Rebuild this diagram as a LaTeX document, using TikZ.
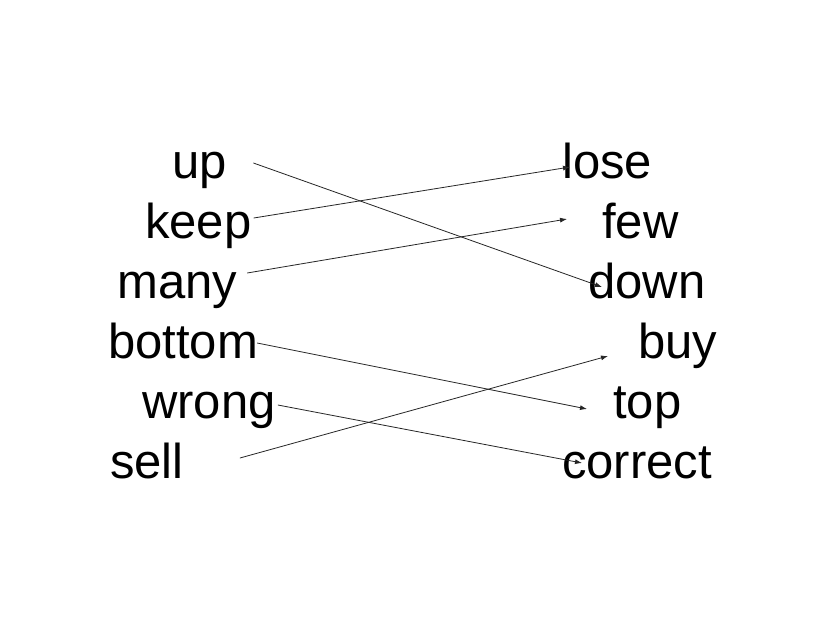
\documentclass[tikz,border=0pt]{standalone}
\usepackage{fontspec}
\setmainfont{Liberation Sans}
\usetikzlibrary{arrows.meta}
\begin{document}
\begin{tikzpicture}[x=1pt,y=1pt,
  word/.style={inner sep=0pt, font=\fontsize{49}{59}\selectfont},
  lw/.style={word, anchor=base west},
  link/.style={line width=0.8pt, draw=black!85, -{Latex[length=7pt,width=5pt]}}]
\fill[white] (0,0) rectangle (821,-616);
\useasboundingbox (0,0) rectangle (821,-616);
% left column
\node[lw] (up)     at (172,-178) {up};
\node[lw] (keep)   at (145,-238) {keep};
\node[lw] (many)   at (117,-298) {many};
\node[lw] (bottom) at (108,-358) {bottom};
\node[lw] (wrong)  at (142,-418) {wrong};
\node[lw] (sell)   at (110,-478) {sell};
% right column
\node[lw] (lose)    at (562,-178) {lose};
\node[lw] (few)     at (602,-238) {few};
\node[lw] (down)    at (588,-298) {down};
\node[lw] (buy)     at (638,-358) {buy};
\node[lw] (top)     at (613,-418) {top};
\node[lw] (correct) at (562,-478) {correct};
% connectors
\draw[link] ([shift={(26.5,15)}]up.base east) -- ([shift={(14,11)}]down.base west);
\draw[link] ([shift={(2,20)}]keep.base east) -- ([shift={(8,11)}]lose.base west);
\draw[link] ([shift={(10,25)}]many.base east) -- ([shift={(-35,19)}]few.base west);
\draw[link] ([shift={(-1,15)}]bottom.base east) -- ([shift={(-26,9)}]top.base west);
\draw[link] ([shift={(2,13)}]wrong.base east) -- ([shift={(20,15)}]correct.base west);
\draw[link] ([shift={(56,20)}]sell.base east) -- ([shift={(-30,2)}]buy.base west);
\end{tikzpicture}
\end{document}
